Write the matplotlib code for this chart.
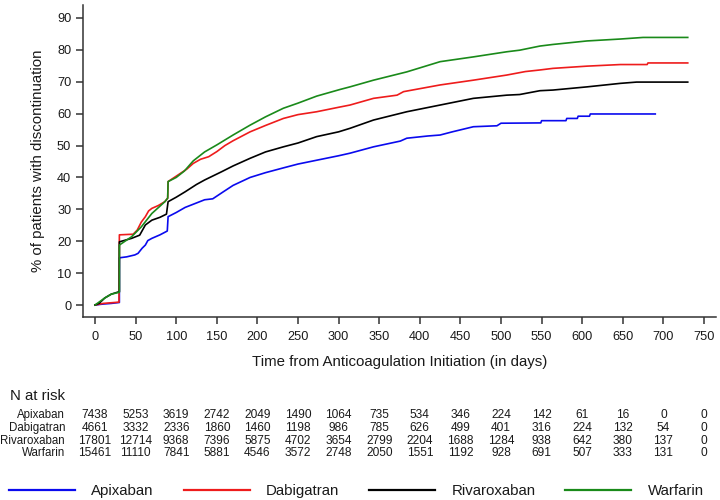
import matplotlib
matplotlib.use("Agg")
import matplotlib.pyplot as plt
from matplotlib.transforms import blended_transform_factory

plt.rcParams['font.family'] = ['Liberation Sans', 'DejaVu Sans']

drugs = ["Apixaban", "Dabigatran", "Rivaroxaban", "Warfarin"]
colors = ["#0a0aee", "#ee1c1c", "#000000", "#1a8a1a"]

# cumulative discontinuation curves (days, %)
apixaban_days = [0, 10, 20, 30, 30, 39, 49, 53, 58, 62, 65, 70, 80, 89, 90, 100, 111, 125,
                 135, 145, 158, 170, 191, 210, 232, 250, 273, 300, 314, 343, 376, 384, 410,
                 425, 440, 466, 495, 500, 549, 550, 580, 581, 594, 595, 609, 610, 690]
apixaban_pct = [0, 0.3, 0.5, 0.8, 14.8, 15.1, 15.7, 16.2, 17.8, 18.8, 20.2, 20.9, 22.0, 23.2,
                27.7, 29.0, 30.6, 32.0, 33.0, 33.3, 35.5, 37.5, 40.0, 41.5, 43.0, 44.2, 45.4,
                46.8, 47.6, 49.6, 51.4, 52.3, 53.0, 53.3, 54.3, 55.9, 56.2, 57.0, 57.1, 57.8,
                57.8, 58.5, 58.5, 59.2, 59.2, 59.9, 59.9]

dabigatran_days = [0, 10, 29.5, 30, 47, 52, 57, 62, 66, 70, 78, 86, 89.5, 90, 100, 113, 121,
                   130, 140, 150, 160, 170, 191, 210, 232, 250, 273, 300, 314, 343, 372, 380,
                   425, 466, 507, 530, 548, 564, 606, 647, 680, 681, 730]
dabigatran_pct = [0, 0.5, 0.9, 22.0, 22.2, 23.5, 26.0, 27.7, 29.5, 30.3, 31.2, 32.4, 33.5,
                  38.7, 40.4, 42.6, 44.4, 45.7, 46.5, 48.1, 50.0, 51.5, 54.3, 56.3, 58.5,
                  59.7, 60.6, 62.0, 62.7, 64.8, 65.8, 66.9, 69.0, 70.5, 72.1, 73.2, 73.7,
                  74.2, 74.9, 75.4, 75.4, 75.9, 75.9]

rivaroxaban_days = [0, 5, 12, 20, 25, 30, 30, 45, 55, 62, 70, 80, 88, 90, 100, 111, 125, 135,
                    156, 170, 191, 210, 232, 250, 273, 300, 314, 343, 384, 425, 466, 507,
                    523, 548, 564, 606, 647, 667, 730]
rivaroxaban_pct = [0, 0.5, 2.2, 3.4, 3.8, 4.2, 19.8, 20.9, 21.9, 25.1, 26.6, 27.5, 28.5,
                   32.4, 33.8, 35.5, 37.8, 39.2, 41.8, 43.6, 46.0, 48.0, 49.6, 50.8, 52.8,
                   54.3, 55.4, 58.0, 60.6, 62.7, 64.8, 65.8, 66.0, 67.2, 67.4, 68.4, 69.5,
                   69.9, 69.9]

warfarin_days = [0, 12, 20, 30, 30, 45, 57, 70, 80, 86, 89.5, 90, 100, 110, 121, 135, 150,
                 170, 191, 210, 232, 250, 273, 302, 314, 343, 384, 425, 466, 507, 523, 548,
                 564, 606, 647, 675, 730]
warfarin_pct = [0, 2.2, 3.4, 4.0, 18.8, 21.4, 24.5, 28.7, 31.0, 32.4, 33.5, 38.7, 40.0, 42.0,
                45.2, 48.0, 50.2, 53.3, 56.4, 59.0, 61.7, 63.3, 65.5, 67.6, 68.4, 70.5, 73.1,
                76.3, 77.8, 79.4, 79.9, 81.2, 81.7, 82.8, 83.4, 83.9, 83.9]

# number at risk table
risk_days = [0, 50, 100, 150, 200, 250, 300, 350, 400, 450, 500, 550, 600, 650, 700, 750]
apixaban_risk = [7438, 5253, 3619, 2742, 2049, 1490, 1064, 735, 534, 346, 224, 142, 61, 16, 0, 0]
dabigatran_risk = [4661, 3332, 2336, 1860, 1460, 1198, 986, 785, 626, 499, 401, 316, 224, 132, 54, 0]
rivaroxaban_risk = [17801, 12714, 9368, 7396, 5875, 4702, 3654, 2799, 2204, 1688, 1284, 938,
                    642, 380, 137, 0]
warfarin_risk = [15461, 11110, 7841, 5881, 4546, 3572, 2748, 2050, 1551, 1192, 928, 691, 507,
                 333, 131, 0]

curves = [(apixaban_days, apixaban_pct), (dabigatran_days, dabigatran_pct),
          (rivaroxaban_days, rivaroxaban_pct), (warfarin_days, warfarin_pct)]
risks = [apixaban_risk, dabigatran_risk, rivaroxaban_risk, warfarin_risk]

W, H = 720, 500
fig = plt.figure(figsize=(7.2, 5.0), dpi=100)
ax = fig.add_axes([83 / W, 1 - 317 / H, (716 - 83) / W, (317 - 5) / H])

for name, col, (d, p) in zip(drugs, colors, curves):
    ax.plot(d, p, color=col, lw=1.2, label=name)

ax.set_xlim(-14.8, 764.8)
ax.set_ylim(-3.76, 94.07)
ax.set_xticks(risk_days)
ax.set_yticks(range(0, 91, 10))

for side in ["top", "right"]:
    ax.spines[side].set_visible(False)
for side in ["left", "bottom"]:
    ax.spines[side].set_color("#333333")
    ax.spines[side].set_linewidth(1.1)
ax.tick_params(direction="out", length=5, width=1.1, color="#333333",
               labelsize=9.2, labelcolor="#1a1a1a")
ax.tick_params(axis="x", pad=5)
ax.tick_params(axis="y", pad=3.5)

ax.set_xlabel("Time from Anticoagulation Initiation (in days)", fontsize=10.8, color="#1a1a1a")
ax.set_ylabel("% of patients with discontinuation", fontsize=10.8, color="#1a1a1a")
ax.xaxis.set_label_coords(0.5, (317 - 362) / 312)
ax.xaxis.label.set_va("center")
ax.yaxis.set_label_coords((38 - 83) / 633, 0.5)
ax.yaxis.label.set_va("center")

# N at risk table
fig.text(10 / W, 1 - 396 / H, "N at risk", fontsize=10.8, ha="left", va="center",
         color="#1a1a1a")
trans = blended_transform_factory(ax.transData, fig.transFigure)
row_y = [415, 427.8, 440.6, 453.4]
for name, vals, yy in zip(drugs, risks, row_y):
    fig.text(65 / W, 1 - yy / H, name, fontsize=8.3, ha="right", va="center", color="#1a1a1a")
    for d, v in zip(risk_days, vals):
        ax.text(d, 1 - yy / H, str(v), transform=trans, fontsize=8.6, ha="center",
                va="center", color="#1a1a1a", clip_on=False)

leg = fig.legend(loc="center", bbox_to_anchor=(356.5 / W, 1 - 491 / H), ncol=4,
                 frameon=False, fontsize=10.8, handlelength=4.4, handletextpad=1.07,
                 columnspacing=2.0)
for t in leg.get_texts():
    t.set_color("#1a1a1a")
for l in leg.get_lines():
    l.set_linewidth(1.6)

fig.savefig("out.png", dpi=100)
